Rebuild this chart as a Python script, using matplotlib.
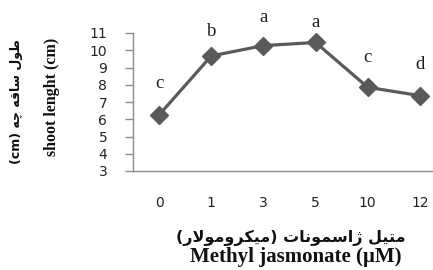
import matplotlib
matplotlib.use('Agg')
import matplotlib.pyplot as plt

# ---------------- data ----------------
categories = ['0', '1', '3', '5', '10', '12']
shoot_length = [6.25, 9.67, 10.27, 10.45, 7.85, 7.37]
letters = ['c', 'b', 'a', 'a', 'c', 'd']
letter_heights = [8.1, 11.1, 11.87, 11.58, 9.6, 9.15]
yticks = [3, 4, 5, 6, 7, 8, 9, 10, 11]

ylabel_en = 'shoot lenght (cm)'
xlabel_en = 'Methyl jasmonate (µM)'

# ---------------- minimal Persian shaping (presentation forms) ----------------
FORMS = {
    'ا': ('\uFE8D', '\uFE8E', None, None),
    'ت': ('\uFE95', '\uFE96', '\uFE97', '\uFE98'),
    'ر': ('\uFEAD', '\uFEAE', None, None),
    'ژ': ('\uFB8A', '\uFB8B', None, None),
    'س': ('\uFEB1', '\uFEB2', '\uFEB3', '\uFEB4'),
    'ط': ('\uFEC1', '\uFEC2', '\uFEC3', '\uFEC4'),
    'ق': ('\uFED5', '\uFED6', '\uFED7', '\uFED8'),
    'ک': ('\uFB8E', '\uFB8F', '\uFB90', '\uFB91'),
    'ل': ('\uFEDD', '\uFEDE', '\uFEDF', '\uFEE0'),
    'م': ('\uFEE1', '\uFEE2', '\uFEE3', '\uFEE4'),
    'ن': ('\uFEE5', '\uFEE6', '\uFEE7', '\uFEE8'),
    'ه': ('\uFEE9', '\uFEEA', '\uFEEB', '\uFEEC'),
    'و': ('\uFEED', '\uFEEE', None, None),
    'ی': ('\uFBFC', '\uFBFD', '\uFBFE', '\uFBFF'),
    'چ': ('\uFB7A', '\uFB7B', '\uFB7C', '\uFB7D'),
}


def dual(c):
    return c in FORMS and FORMS[c][2] is not None


def shape_word(word):
    """Return the visual (left-to-right) glyph sequence of one Persian word."""
    out = []
    i = 0
    n = len(word)
    while i < n:
        ch = word[i]
        jp = i > 0 and dual(word[i - 1])
        if ch == 'ل' and i + 1 < n and word[i + 1] == 'ا':
            out.append('\uFEFC' if jp else '\uFEFB')
            i += 2
            continue
        jn = dual(ch) and i + 1 < n and word[i + 1] in FORMS
        iso, fin, ini, med = FORMS[ch]
        if jp and jn:
            out.append(med)
        elif jp:
            out.append(fin)
        elif jn:
            out.append(ini)
        else:
            out.append(iso)
        i += 1
    return ''.join(reversed(out))


# visual order (left to right) of the right-to-left labels
ylabel_fa = '(cm) ' + ' '.join(shape_word(w) for w in ['چه', 'ساقه', 'طول'])
xlabel_fa = '(' + shape_word('میکرومولار') + ') ' + shape_word('ژاسمونات') + ' ' + shape_word('متیل')

# ---------------- figure ----------------
W, H = 433, 270
fig = plt.figure(figsize=(W / 100, H / 100), dpi=100)
ax = fig.add_axes([133 / W, 99 / H, (446 - 133) / W, 138 / H])

x = list(range(len(categories)))
ax.plot(x, shoot_length, color='#5a5a5a', lw=2.3, marker='D', ms=9,
        markerfacecolor='#5a5a5a', markeredgecolor='#5a5a5a', clip_on=False)

for xi, lt, hy in zip(x, letters, letter_heights):
    ax.text(xi, hy, lt, ha='center', va='center', fontsize=13.5,
            family='Liberation Serif', color='#1a1a1a', clip_on=False)

ax.set_xlim(-0.5, len(categories) - 0.5)
ax.set_ylim(min(yticks), max(yticks))
ax.set_yticks(yticks)
ax.set_xticks(x)
ax.set_xticklabels(categories)

for s in ['top', 'right']:
    ax.spines[s].set_visible(False)
for s in ['left', 'bottom']:
    ax.spines[s].set_color('#8c8c8c')
    ax.spines[s].set_linewidth(1.0)

ax.tick_params(axis='y', direction='out', length=5.5, width=1.0, color='#8c8c8c',
               pad=13, labelsize=10, labelcolor='#222222')
ax.tick_params(axis='x', length=0, pad=18, labelsize=10, labelcolor='#222222')
for lab in ax.get_xticklabels() + ax.get_yticklabels():
    lab.set_family('DejaVu Sans')

# axis titles
fig.text(17 / W, 1 - 102 / H, ylabel_fa, rotation=90, ha='center', va='center',
         fontsize=9, family=['DejaVu Sans'], fontweight='bold', color='#111111')
fig.text(52 / W, 1 - 97 / H, ylabel_en, rotation=90, ha='center', va='center',
         fontsize=11.5, family='Liberation Serif', fontweight='bold', color='#111111')
fig.text(291 / W, 1 - 238 / H, xlabel_fa, ha='center', va='center',
         fontsize=11.5, family=['DejaVu Sans'], fontweight='bold', color='#111111')
fig.text(296 / W, 1 - 257 / H, xlabel_en, ha='center', va='center',
         fontsize=15, family='Liberation Serif', fontweight='bold', color='#111111')

fig.savefig('out.png', dpi=100, facecolor='white')
